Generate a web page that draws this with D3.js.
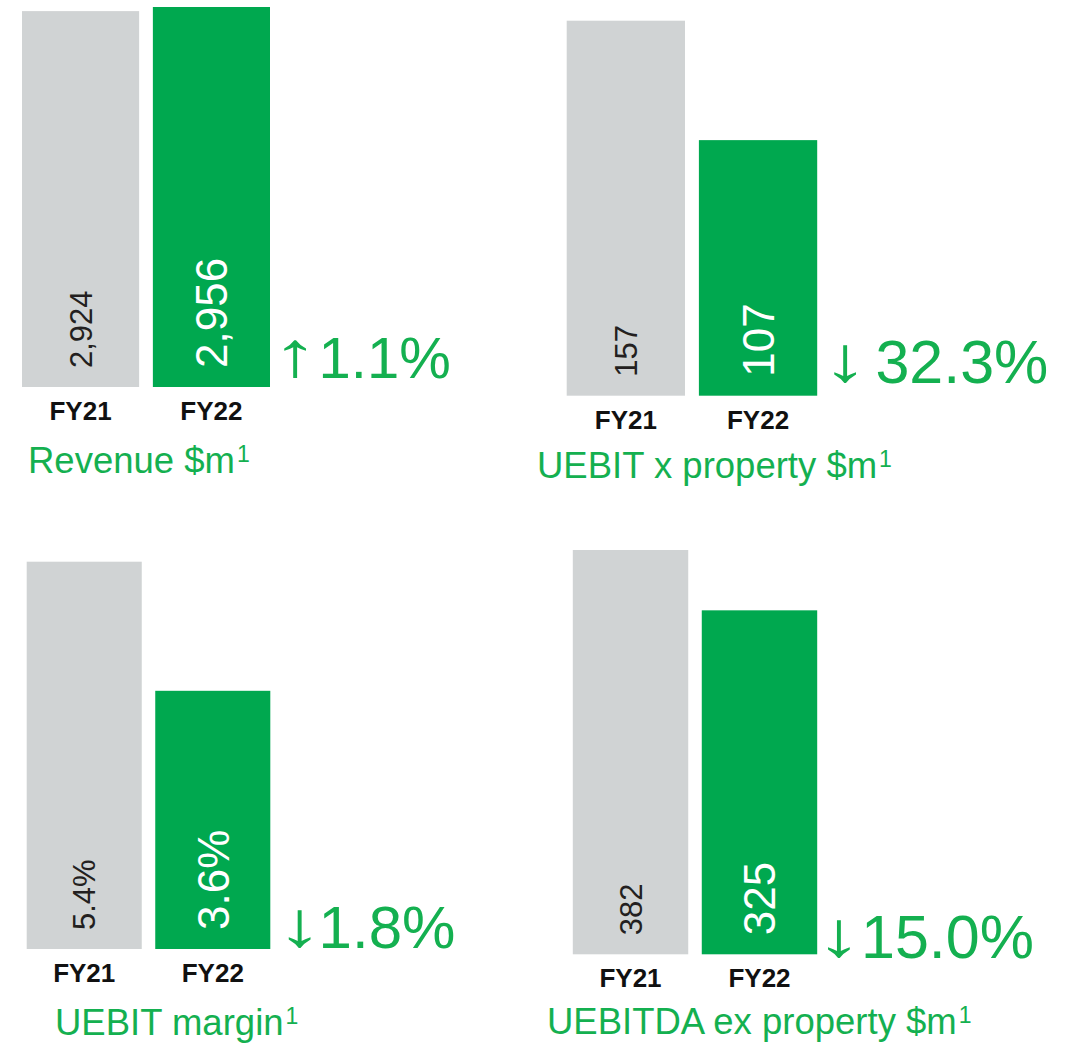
<!DOCTYPE html>
<html>
<head>
<meta charset="utf-8">
<script src="https://cdn.jsdelivr.net/npm/d3@7/dist/d3.min.js"></script>
<style>
	body { margin: 0; background: #fff; }
	svg text { font-family: 'Liberation Sans', Arial, Helvetica, sans-serif; white-space: pre; }
</style>
</head>
<body>
<div id="chart"></div>
<script>
// ----------------------------------
// DATA
// ----------------------------------
const categories = ['FY21', 'FY22'];
const revenue = [2924, 2956];
const uebitXProperty = [157, 107];
const uebitMargin = [5.4, 3.6];
const uebitdaExProperty = [382, 325];

const titles = ['Revenue $m', 'UEBIT x property $m', 'UEBIT margin', 'UEBITDA ex property $m'];
const footnote = '1';
const changeArrows = ['↑', '↓', '↓', '↓'];
const changeValues = ['1.1%', '32.3%', '1.8%', '15.0%'];

const series = [revenue, uebitXProperty, uebitMargin, uebitdaExProperty];
const formats = [d3.format(','), d3.format(','), d => d.toFixed(1) + '%', d3.format(',')];

// ----------------------------------
// LAYOUT (pixels, one per panel)
// ----------------------------------
const layout = [
	{left: 22,    right: 270,   top: 7,     bottom: 387,   titleX: 28,  titleY: 473,  arrowX: 295.5, numX: 318.6, changeY: 378.3, changeSize: 58},
	{left: 566.7, right: 817.2, top: 20.7,  bottom: 395.7, titleX: 537, titleY: 478,  arrowX: 845.5, numX: 875.4, changeY: 383.3, changeSize: 61},
	{left: 26.7,  right: 270.3, top: 561.7, bottom: 949,   titleX: 55,  titleY: 1035, arrowX: 300,   numX: 318.6, changeY: 948.3, changeSize: 60},
	{left: 572.8, right: 817.2, top: 550,   bottom: 954.3, titleX: 547, titleY: 1034, arrowX: 839.3, numX: 861,   changeY: 958.3, changeSize: 61}
];

const grey = '#d0d3d4',
	green = '#00a84f',
	textGreen = '#14b050';

const width = 1065, height = 1043;

const svg = d3.select('#chart')
	.append('svg')
	.attr('width', width)
	.attr('height', height);

svg.append('rect')
	.attr('width', width)
	.attr('height', height)
	.attr('fill', '#fff');

function drawPanel(i){
	const values = series[i],
		box = layout[i],
		fmt = formats[i];

	const data = categories.map((c, j) => ({x: c, y: values[j], idx: j}));

	// scales
	const xScale = d3.scaleBand()
		.domain(categories)
		.range([box.left, box.right])
		.paddingInner(0.105)
		.paddingOuter(0);

	const yScale = d3.scaleLinear()
		.domain([0, d3.max(values)])
		.range([box.bottom, box.top]);

	const g = svg.append('g').classed('panel', true);

	// bars
	g.selectAll('rect.bar')
		.data(data)
		.enter()
		.append('rect')
			.classed('bar', true)
			.attr('x', d => xScale(d.x))
			.attr('y', d => yScale(d.y))
			.attr('width', xScale.bandwidth())
			.attr('height', d => yScale(0) - yScale(d.y))
			.style('fill', d => d.idx === 0 ? grey : green);

	// rotated value labels inside the bars
	g.selectAll('text.value')
		.data(data)
		.enter()
		.append('text')
			.classed('value', true)
			.text(d => fmt(d.y))
			.attr('transform', d => `translate(${xScale(d.x) + xScale.bandwidth() / 2},${yScale(0) - 19}) rotate(-90)`)
			.attr('dy', '0.36em')
			.attr('text-anchor', 'start')
			.style('font-size', d => d.idx === 0 ? '31px' : '44px')
			.style('fill', d => d.idx === 0 ? '#231f20' : '#fff');

	// category labels
	const xAxis = d3.axisBottom(xScale).tickSize(0).tickPadding(0);
	const axis = g.append('g')
		.classed('x axis', true)
		.attr('transform', `translate(0,${yScale(0) + 33})`)
		.call(xAxis);
	axis.select('.domain').remove();
	axis.selectAll('text')
		.attr('dy', 0)
		.attr('y', 0)
		.style('font-family', "'Liberation Sans', Arial, sans-serif")
		.style('font-size', '26px')
		.style('font-weight', 'bold')
		.style('fill', '#111');

	// panel title with superscript footnote
	const title = g.append('text')
		.classed('title', true)
		.attr('x', box.titleX)
		.attr('y', box.titleY)
		.style('font-size', '36.5px')
		.style('fill', textGreen);
	title.append('tspan').text(titles[i]);
	title.append('tspan')
		.attr('dx', 2)
		.attr('dy', -11)
		.style('font-size', '23px')
		.text(footnote);

	// change label: arrow glyph (stretched) + percentage
	g.append('text')
		.classed('change-arrow', true)
		.text(changeArrows[i])
		.attr('text-anchor', 'middle')
		.attr('transform', `translate(${box.arrowX},${box.changeY - 2}) scale(1.6,1.1)`)
		.style('font-size', '58px')
		.style('fill', textGreen);

	g.append('text')
		.classed('change', true)
		.text(changeValues[i])
		.attr('x', box.numX)
		.attr('y', box.changeY)
		.style('font-size', box.changeSize + 'px')
		.style('fill', textGreen);
}

series.forEach((s, i) => drawPanel(i));
</script>
</body>
</html>
